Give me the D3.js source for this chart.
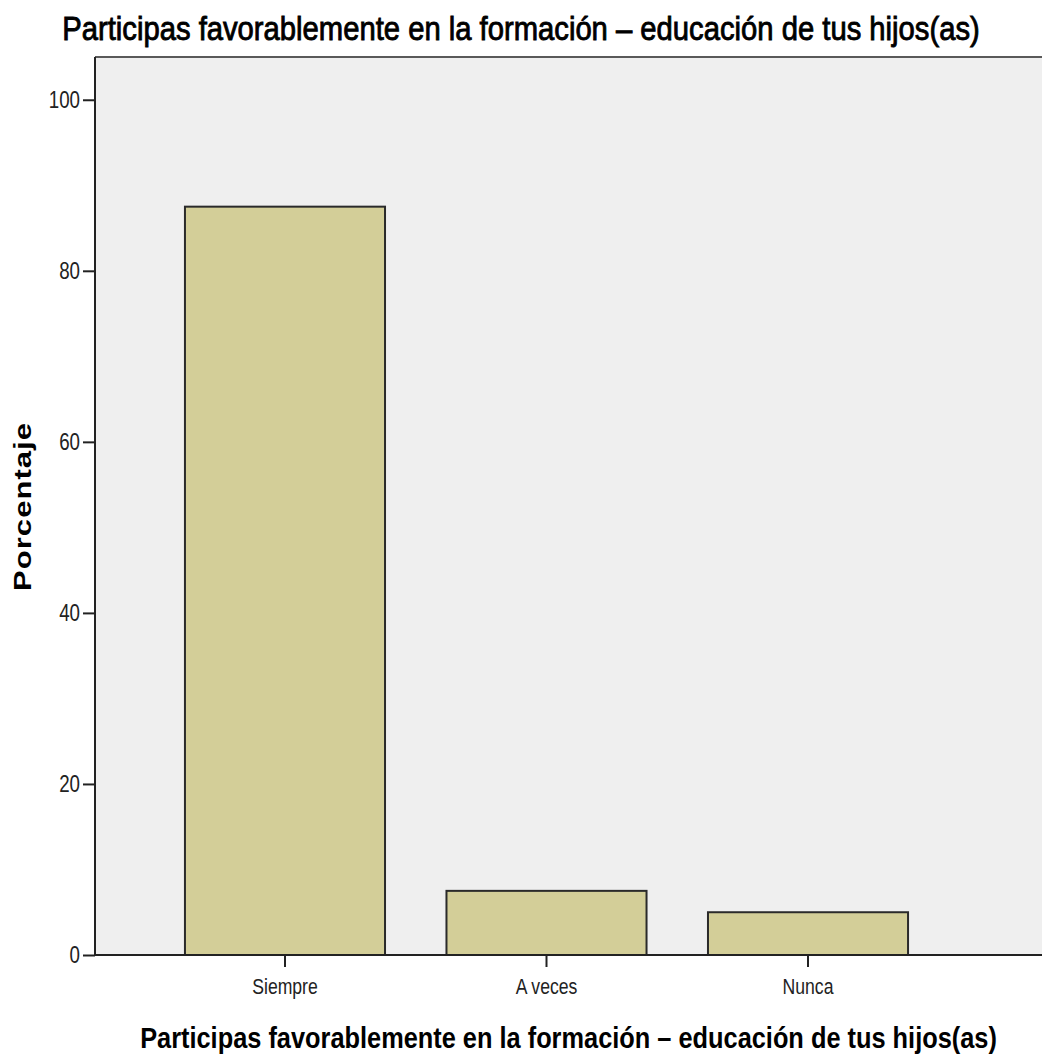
<!DOCTYPE html>
<html>
<head>
<meta charset="utf-8">
<script src="https://cdn.jsdelivr.net/npm/d3@7"></script>
<style>
  body { margin: 0; background: #fff; }
  text { font-family: "Liberation Sans", Arial, sans-serif; }
</style>
</head>
<body>
<div id="chart"></div>
<script>
const categories = ['Siempre', 'A veces', 'Nunca'];
const percentages = [87.5, 7.5, 5.0];
const y_ticks = [0, 20, 40, 60, 80, 100];
const title_text = 'Participas favorablemente en la formación – educación de tus hijos(as)';
const y_label = 'Porcentaje';

const chart_width = 1042;
const chart_height = 1055;
const plot_left = 95;
const plot_right = 1042;
const plot_top = 57;
const plot_bottom = 955;
const squeeze = 0.78; // reference text looks horizontally compressed

const svg = d3.select('#chart')
    .append('svg')
    .attr('width', chart_width)
    .attr('height', chart_height);

// squeeze a centred text horizontally so it spans the wanted width
function fit_width(sel, cx, cy, width) {
    const len = sel.node().getComputedTextLength();
    sel.attr('transform', `translate(${cx},${cy}) scale(${width / len},1)`);
}

// scales
const x_scale = d3.scaleBand()
    .domain(categories)
    .range([plot_left, 998])
    .paddingInner(0.235)
    .paddingOuter(0.344);

const y_scale = d3.scaleLinear()
    .domain([0, 105])
    .range([plot_bottom, plot_top]);

// plot background
svg.append('rect')
    .attr('x', plot_left)
    .attr('y', plot_top)
    .attr('width', plot_right - plot_left)
    .attr('height', plot_bottom - plot_top)
    .attr('fill', '#efefef');

svg.append('line')
    .attr('x1', plot_left).attr('x2', plot_right)
    .attr('y1', plot_top).attr('y2', plot_top)
    .attr('stroke', '#5a5a5a')
    .attr('stroke-width', 2);

// bars
svg.selectAll('rect.bar')
    .data(percentages)
    .enter()
    .append('rect')
    .attr('class', 'bar')
    .attr('x', (d, i) => x_scale(categories[i]))
    .attr('y', d => y_scale(d))
    .attr('width', x_scale.bandwidth())
    .attr('height', d => plot_bottom - y_scale(d))
    .attr('fill', '#d3ce98')
    .attr('stroke', '#2a2a2a')
    .attr('stroke-width', 2);

// y axis
const y_axis = svg.append('g')
    .attr('transform', `translate(${plot_left},0)`)
    .call(d3.axisLeft(y_scale).tickValues(y_ticks).tickSize(12).tickSizeOuter(0));
y_axis.select('.domain').remove();
y_axis.selectAll('.tick line').attr('stroke', '#222').attr('stroke-width', 2);
y_axis.selectAll('.tick text')
    .attr('x', null)
    .attr('transform', `translate(-15,0) scale(${squeeze},1)`)
    .attr('font-size', 24)
    .attr('fill', '#222');

// x axis
const x_axis = svg.append('g')
    .attr('transform', `translate(0,${plot_bottom})`)
    .call(d3.axisBottom(x_scale).tickSize(12).tickSizeOuter(0));
x_axis.select('.domain').remove();
x_axis.selectAll('.tick line').attr('stroke', '#222').attr('stroke-width', 2);
x_axis.selectAll('.tick text')
    .attr('y', null)
    .attr('dy', null)
    .attr('transform', `translate(0,39) scale(0.8,1)`)
    .attr('font-size', 22)
    .attr('fill', '#222');

// axis lines
svg.append('line')
    .attr('x1', plot_left).attr('x2', plot_left)
    .attr('y1', plot_top).attr('y2', plot_bottom + 1)
    .attr('stroke', '#222').attr('stroke-width', 2);
svg.append('line')
    .attr('x1', plot_left - 1).attr('x2', plot_right)
    .attr('y1', plot_bottom).attr('y2', plot_bottom)
    .attr('stroke', '#222').attr('stroke-width', 2);

// title
const title = svg.append('text')
    .attr('text-anchor', 'middle')
    .attr('font-size', 34)
    .attr('fill', '#000')
    .attr('stroke', '#000')
    .attr('stroke-width', 0.9)
    .text(title_text);
fit_width(title, chart_width / 2, 40, 918);

// x axis label
const x_label = svg.append('text')
    .attr('text-anchor', 'middle')
    .attr('font-size', 29)
    .attr('font-weight', 'bold')
    .attr('fill', '#000')
    .text(title_text);
fit_width(x_label, (plot_left + plot_right) / 2, 1048, 857);

// y axis label
svg.append('text')
    .attr('transform', 'translate(31,507) scale(0.8,1) rotate(-90)')
    .attr('text-anchor', 'middle')
    .attr('font-size', 31)
    .attr('font-weight', 'bold')
    .attr('textLength', 168)
    .attr('lengthAdjust', 'spacing')
    .attr('fill', '#000')
    .text(y_label);
</script>
</body>
</html>
